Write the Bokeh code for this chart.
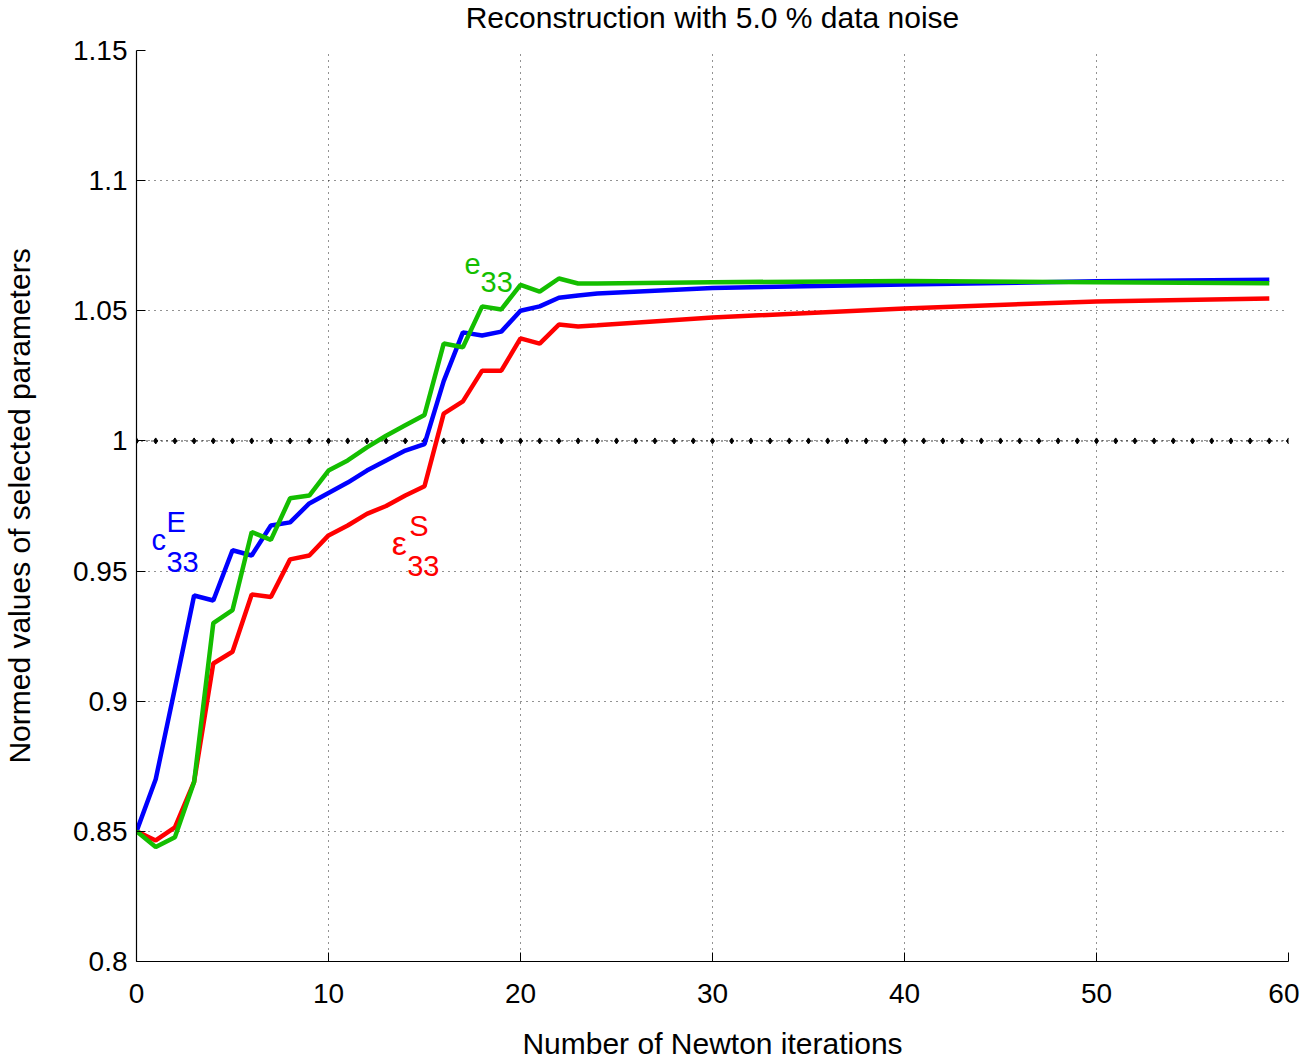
from bokeh.plotting import figure
from bokeh.models import FixedTicker, Title, Range1d
from bokeh.embed import file_html
from bokeh.resources import INLINE
from bokeh.core.properties import value

FONT = "Liberation Sans"

# ---- data ----
iters = [0, 1, 2, 3, 4, 5, 6, 7, 8, 9, 10, 11, 12, 13, 14, 15, 16, 17, 18, 19,
         20, 21, 22, 23, 24, 30, 40, 50, 59]
c33E = [0.850, 0.870, 0.905, 0.9406, 0.9387, 0.958, 0.956, 0.9675, 0.9687, 0.976,
        0.980, 0.984, 0.9886, 0.9925, 0.9963, 0.9988, 1.023, 1.0417, 1.0405, 1.042,
        1.050, 1.0517, 1.055, 1.0559, 1.0566, 1.0588, 1.0601, 1.0613, 1.0619]
e33 = [0.850, 0.844, 0.8477, 0.869, 0.930, 0.935, 0.965, 0.962, 0.978, 0.979,
       0.9886, 0.9925, 0.9975, 1.002, 1.006, 1.010, 1.0374, 1.036, 1.0517, 1.0505,
       1.060, 1.0574, 1.0624, 1.0605, 1.0605, 1.0610, 1.0614, 1.0610, 1.0606]
eps33S = [0.850, 0.8465, 0.8515, 0.869, 0.9145, 0.919, 0.941, 0.940, 0.9545, 0.956,
          0.9637, 0.9675, 0.972, 0.975, 0.979, 0.9826, 1.0105, 1.0152, 1.027, 1.027,
          1.0394, 1.0374, 1.0447, 1.044, 1.0444, 1.0474, 1.0509, 1.0536, 1.0547]

ref_x = list(range(0, 61))
ref_y = [1.0] * len(ref_x)

x_ticks = [0, 10, 20, 30, 40, 50, 60]
y_ticks = [0.8, 0.85, 0.9, 0.95, 1.0, 1.05, 1.1, 1.15]
y_tick_labels = ["0.8", "0.85", "0.9", "0.95", "1", "1.05", "1.1", "1.15"]

title_text = "Reconstruction with 5.0 % data noise"
x_label = "Number of Newton iterations"
y_label = "Normed values of selected parameters"

BLUE = "#0000ff"
GREEN = "#14be00"
RED = "#ff0000"

# ---- figure ----
p = figure(frame_width=1152, frame_height=911,
           x_range=Range1d(0, 60), y_range=Range1d(0.8, 1.15),
           min_border_left=127, min_border_right=11,
           min_border_top=50, min_border_bottom=95,
           output_backend="svg", toolbar_location=None,
           background_fill_color="white", border_fill_color="white")
p.outline_line_color = None

# spacer panel between frame and title, then the title itself
spacer = Title(text=" ", text_font_size="1px", standoff=12)
p.add_layout(spacer, "above")
t = Title(text=title_text, align="center", vertical_align="top", text_font=FONT,
          text_font_size="30px", text_font_style="normal", text_color="black",
          standoff=0)
p.add_layout(t, "above")

for ax in (p.xaxis[0], p.yaxis[0]):
    ax.axis_line_color = "black"
    ax.axis_line_width = 1.2
    ax.major_tick_in = 9
    ax.major_tick_out = 0
    ax.major_tick_line_color = "black"
    ax.minor_tick_line_color = None
    ax.major_label_text_font = FONT
    ax.major_label_text_font_size = "28px"
    ax.major_label_text_color = "black"
    ax.axis_label_text_font = FONT
    ax.axis_label_text_font_size = "30px"
    ax.axis_label_text_font_style = "normal"
    ax.axis_label_text_color = "black"

p.xaxis.ticker = FixedTicker(ticks=x_ticks)
p.yaxis.ticker = FixedTicker(ticks=y_ticks)
p.yaxis.major_label_overrides = {v: s for v, s in zip(y_ticks, y_tick_labels)}
p.xaxis.axis_label = x_label
p.yaxis.axis_label = y_label
p.xaxis.major_label_standoff = 22
p.yaxis.major_label_standoff = 9
p.xaxis.axis_label_standoff = 21
p.yaxis.axis_label_standoff = 34

for g in (p.xgrid[0], p.ygrid[0]):
    g.grid_line_color = "black"
    g.grid_line_alpha = 0.85
    g.grid_line_width = 1
    g.grid_line_dash = "1 5"

# reference line at 1
p.line(ref_x, ref_y, line_color="black", line_width=1.5, line_dash="1 4")
p.scatter(ref_x, ref_y, size=6, color="black", marker="diamond")

# curves
p.line(iters, eps33S, line_color=RED, line_width=4.5)
p.line(iters, c33E, line_color=BLUE, line_width=4.5)
p.line(iters, e33, line_color=GREEN, line_width=4.5)

# curve labels (data coordinates)
lab_x = [0.78, 1.56, 1.56, 17.08, 17.92, 14.2, 14.1]
lab_y = [0.9618, 0.9687, 0.9533, 1.0678, 1.0609, 0.9675, 0.9518]
lab_t = ["c", "E", "33", "e", "33", "S", "33"]
lab_c = [BLUE, BLUE, BLUE, GREEN, GREEN, RED, RED]
p.text(x=lab_x, y=lab_y, text=lab_t, text_color=lab_c,
       text_font=value(FONT), text_font_size="29px",
       text_align="left", text_baseline="alphabetic")

# epsilon drawn a little larger (symbol font look)
eps_x = [13.3]
eps_y = [0.9606]
eps_t = ["\u03b5"]
p.text(x=eps_x, y=eps_y, text=eps_t, text_color=RED,
       text_font=value(FONT), text_font_size="34px",
       text_align="left", text_baseline="alphabetic")

open("out.html", "w").write(file_html(p, INLINE))
